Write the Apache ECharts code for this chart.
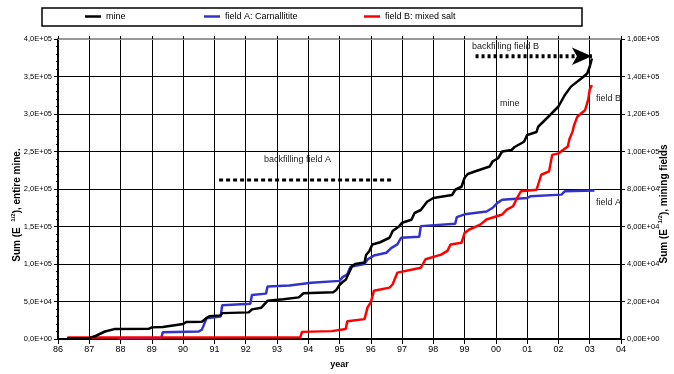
<!DOCTYPE html>
<html>
<head>
<meta charset="utf-8">
<script src="https://cdn.jsdelivr.net/npm/echarts@6/dist/echarts.min.js"></script>
<style>
  html, body { margin: 0; padding: 0; background: #fff; }
  #chart { width: 674px; height: 374px; }
</style>
</head>
<body>
<div id="chart"></div>
<script>
// Cumulative sum of E^(1/2) per year (x = year, 86 = 1986, 100 = 2000 ...)
const mineSeries = [
  [86.3, 1000], [87.0, 1500], [87.2, 4000], [87.5, 10000], [87.8, 13200], [88.9, 13500],
  [89.0, 15500], [89.35, 16000], [89.4, 18200], [90.0, 20000], [90.1, 22700], [90.6, 23000],
  [90.75, 28200], [90.85, 30500], [91.2, 31500], [91.25, 34500], [92.1, 35500], [92.2, 39500],
  [92.5, 41800], [92.7, 50900], [93.2, 53000], [93.7, 55500], [93.85, 61000], [94.8, 62300],
  [94.9, 65500], [95.0, 72000], [95.1, 76000], [95.2, 79000], [95.3, 88000], [95.4, 97000],
  [95.5, 100000], [95.8, 102000], [95.85, 112000], [95.95, 117000], [96.05, 126000], [96.3, 129000],
  [96.6, 135000], [96.7, 144000], [96.9, 150000], [97.0, 155000], [97.3, 159000], [97.4, 168000],
  [97.6, 172000], [97.8, 183000], [98.0, 188000], [98.3, 190000], [98.6, 192000], [98.7, 199000],
  [98.9, 203000], [99.0, 215000], [99.1, 220000], [99.3, 223000], [99.8, 230000], [99.9, 237000],
  [100.07, 241000], [100.2, 250000], [100.5, 252000], [100.6, 256000], [100.9, 263000], [101.0, 272000],
  [101.3, 276000], [101.35, 283000], [101.67, 296000], [102.0, 310000], [102.2, 325000], [102.4, 336500],
  [102.75, 348000], [102.92, 354000], [103.0, 363000], [103.07, 374000]
];
const fieldASeries = [
  [87.9, 300], [89.3, 400], [89.35, 3600], [90.5, 4000], [90.6, 5000], [90.75, 11000],
  [91.2, 12000], [91.25, 18000], [92.15, 18800], [92.2, 23500], [92.65, 24200], [92.7, 28000],
  [93.4, 28500], [93.45, 29500], [94.1, 30000], [95.0, 31000], [95.1, 33000], [95.25, 34500],
  [95.35, 38500], [95.8, 40000], [95.9, 42500], [96.1, 44500], [96.5, 46000], [96.65, 48500],
  [96.85, 50500], [96.97, 54000], [97.55, 54500], [97.6, 60200], [98.7, 61500], [98.75, 65000],
  [99.0, 66500], [99.7, 68000], [99.9, 70000], [100.05, 72600], [100.2, 74300], [101.0, 75200],
  [101.1, 76100], [102.1, 77000], [102.2, 78800], [103.15, 79200]
];
const fieldBSeries = [
  [86.3, 800], [93.75, 1000], [93.8, 3800], [94.75, 4200], [94.8, 4800], [95.2, 5300],
  [95.25, 9500], [95.8, 10600], [95.9, 17000], [96.0, 19500], [96.1, 25700], [96.6, 27400],
  [96.7, 29200], [96.85, 35400], [97.6, 38000], [97.75, 42500], [98.25, 45000], [98.45, 47000],
  [98.55, 50400], [98.9, 51300], [99.0, 56600], [99.15, 58400], [99.5, 61000], [99.7, 63700],
  [100.2, 66400], [100.35, 69000], [100.55, 70800], [100.65, 74300], [100.8, 78800], [101.3, 79600],
  [101.45, 87600], [101.7, 89400], [101.8, 98200], [102.0, 99000], [102.3, 102700], [102.35, 106500],
  [102.45, 110600], [102.5, 114000], [102.6, 118500], [102.85, 122000], [102.95, 127500], [103.0, 133000],
  [103.07, 135500]
];

// Backfilling periods, drawn at a fixed level of the left (entire mine) axis
const backfillA = { from: 91.15, to: 96.65, level: 212000 };
const backfillB = { from: 99.35, to: 103.07, level: 377000 };

const seriesNames = ['mine', 'field A: Carnallitite', 'field B: mixed salt'];
const seriesColors = ['#000000', '#3333cc', '#ff0000'];

const FONT = '"Liberation Sans", Arial, sans-serif';

function sci(v, digits) {
  if (v === 0) return '0,' + '0'.repeat(digits) + 'E+00';
  const e = Math.floor(Math.log10(v) + 1e-9);
  const m = v / Math.pow(10, e);
  return m.toFixed(digits).replace('.', ',') + 'E+' + String(e).padStart(2, '0');
}
function yearLabel(v) {
  return String(Math.round(v) % 100).padStart(2, '0');
}

const chart = echarts.init(document.getElementById('chart'), null, { renderer: 'canvas' });

const legendBase = {
  top: 12, padding: 0, icon: 'rect', itemWidth: 16, itemHeight: 2.5, itemGap: 0,
  textStyle: { fontSize: 9, color: '#000', fontFamily: FONT },
  selectedMode: false
};

const option = {
  animation: false,
  backgroundColor: '#fff',
  textStyle: { fontFamily: FONT },
  grid: { left: 58, right: 53, top: 39, bottom: 35 },
  legend: [
    Object.assign({}, legendBase, { data: [seriesNames[0]], left: 85 }),
    Object.assign({}, legendBase, { data: [seriesNames[1]], left: 204 }),
    Object.assign({}, legendBase, { data: [seriesNames[2]], left: 364 })
  ],
  xAxis: [
    {
      type: 'value', min: 86, max: 104, interval: 1, position: 'bottom',
      name: 'year', nameLocation: 'middle', nameGap: 21,
      nameTextStyle: { fontSize: 9, fontWeight: 'bold', color: '#000', fontFamily: FONT },
      axisLine: { show: true, onZero: false, lineStyle: { color: '#000', width: 2 } },
      axisTick: { show: true, length: 5, lineStyle: { color: '#000', width: 1 } },
      axisLabel: { fontSize: 9, color: '#000', margin: 6, formatter: yearLabel, fontFamily: FONT },
      splitLine: { show: true, lineStyle: { color: '#000', width: 1 } }
    },
    {
      type: 'value', min: 86, max: 104, interval: 1, position: 'top',
      axisLine: { show: true, onZero: false, lineStyle: { color: '#999', width: 2 } },
      axisTick: { show: true, length: 3, lineStyle: { color: '#000', width: 1 } },
      axisLabel: { show: false },
      splitLine: { show: false }
    }
  ],
  yAxis: [
    {
      type: 'value', min: 0, max: 400000, interval: 50000, position: 'left',
      axisLine: { show: true, onZero: false, lineStyle: { color: '#000', width: 2 } },
      axisTick: { show: true, length: 4, lineStyle: { color: '#000', width: 1 } },
      minorTick: { show: true, splitNumber: 5, length: 2, lineStyle: { color: '#000', width: 1 } },
      axisLabel: { fontSize: 7.5, color: '#000', margin: 6, formatter: v => sci(v, 1), fontFamily: FONT },
      splitLine: { show: true, lineStyle: { color: '#000', width: 1 } }
    },
    {
      type: 'value', min: 0, max: 160000, interval: 20000, position: 'right',
      axisLine: { show: true, onZero: false, lineStyle: { color: '#000', width: 2 } },
      axisTick: { show: true, length: 4, lineStyle: { color: '#000', width: 1 } },
      axisLabel: { fontSize: 7.5, color: '#000', margin: 6, formatter: v => sci(v, 2), fontFamily: FONT },
      splitLine: { show: false }
    }
  ],
  series: [
    {
      name: seriesNames[0], type: 'line', xAxisIndex: 0, yAxisIndex: 0, data: mineSeries,
      showSymbol: false, color: seriesColors[0], lineStyle: { width: 2.5, color: seriesColors[0] }, z: 4
    },
    {
      name: seriesNames[1], type: 'line', xAxisIndex: 0, yAxisIndex: 1, data: fieldASeries,
      showSymbol: false, color: seriesColors[1], lineStyle: { width: 2.5, color: seriesColors[1] }, z: 3
    },
    {
      name: seriesNames[2], type: 'line', xAxisIndex: 0, yAxisIndex: 1, data: fieldBSeries,
      showSymbol: false, color: seriesColors[2], lineStyle: { width: 2.5, color: seriesColors[2] }, z: 3
    },
    {
      name: 'backfill A', type: 'line', xAxisIndex: 0, yAxisIndex: 0, silent: true,
      data: [[backfillA.from, backfillA.level], [backfillA.to, backfillA.level]],
      showSymbol: false, lineStyle: { width: 3, color: '#000', type: [4, 3] }, z: 5
    },
    {
      name: 'backfill B', type: 'line', xAxisIndex: 0, yAxisIndex: 0, silent: true,
      data: [
        { value: [backfillB.from, backfillB.level], symbol: 'none' },
        { value: [backfillB.to, backfillB.level], symbol: 'arrow', symbolSize: [13, 20], symbolRotate: -90 }
      ],
      showSymbol: true, symbol: 'none', color: '#000',
      itemStyle: { color: '#000' },
      lineStyle: { width: 4, color: '#000', type: [3, 3] }, z: 5
    }
  ],
  graphic: [
    { type: 'rect', shape: { x: 42, y: 8, width: 540, height: 18 },
      style: { fill: 'none', stroke: '#000', lineWidth: 1.5 } },
    { type: 'text', x: 17, y: 205, rotation: Math.PI / 2,
      style: { text: 'Sum (E  {s|1/2}), entire mine.', align: 'center', verticalAlign: 'middle',
        font: 'bold 10px ' + FONT, fill: '#000',
        rich: { s: { fontSize: 6, fontWeight: 'bold', verticalAlign: 'top', lineHeight: 14 } } } },
    { type: 'text', x: 664, y: 204, rotation: Math.PI / 2,
      style: { text: 'Sum (E  {s|1/2}), mining fields', align: 'center', verticalAlign: 'middle',
        font: 'bold 10px ' + FONT, fill: '#000',
        rich: { s: { fontSize: 6, fontWeight: 'bold', verticalAlign: 'top', lineHeight: 14 } } } },
    { type: 'text', x: 264, y: 160, style: { text: 'backfilling field A', font: '9px ' + FONT, fill: '#222', verticalAlign: 'middle' } },
    { type: 'text', x: 472, y: 47, style: { text: 'backfilling field B', font: '9px ' + FONT, fill: '#222', verticalAlign: 'middle' } },
    { type: 'text', x: 500, y: 104, style: { text: 'mine', font: '9px ' + FONT, fill: '#222', verticalAlign: 'middle' } },
    { type: 'text', x: 596, y: 99, style: { text: 'field B', font: '9px ' + FONT, fill: '#222', verticalAlign: 'middle' } },
    { type: 'text', x: 596, y: 203, style: { text: 'field A', font: '9px ' + FONT, fill: '#222', verticalAlign: 'middle' } }
  ]
};

chart.setOption(option);
</script>
</body>
</html>
